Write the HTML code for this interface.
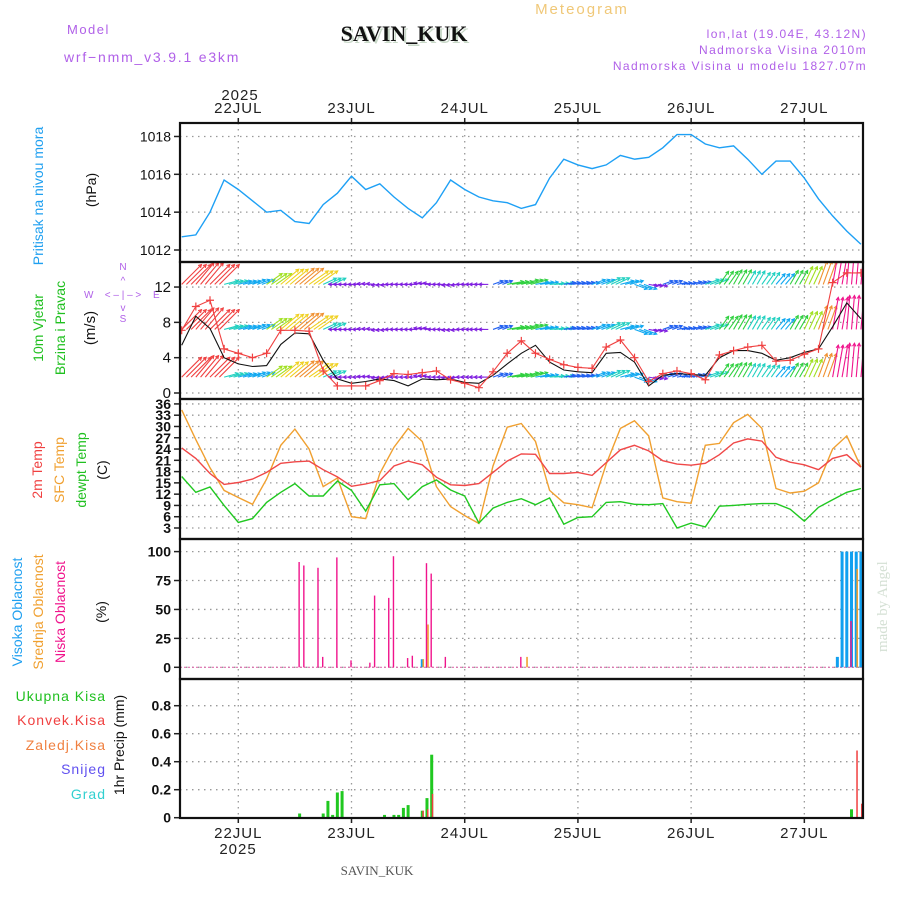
<!DOCTYPE html>
<html><head><meta charset="utf-8">
<style>
body{margin:0;background:#fff;}
svg{display:block;font-family:"Liberation Sans",sans-serif;}
</style></head>
<body>
<svg id="c" width="900" height="900" viewBox="0 0 900 900" xmlns="http://www.w3.org/2000/svg">
<defs>
<clipPath id="cp1"><rect x="180" y="123" width="683" height="139"/></clipPath>
<clipPath id="cp2"><rect x="180" y="262" width="683" height="137"/></clipPath>
<clipPath id="cp3"><rect x="180" y="399" width="683" height="140"/></clipPath>
<clipPath id="cp4"><rect x="180" y="539" width="683" height="140"/></clipPath>
<clipPath id="cp5"><rect x="180" y="679" width="683" height="139"/></clipPath>
</defs>
<rect x="0" y="0" width="900" height="900" fill="#fff"/>
<g id="grid"></g>
<g id="marks"></g>
<g id="frames"></g>
<g id="labels">
<text x="67" y="34" font-size="13" fill="#b060e8" letter-spacing="1.5">Model</text>
<text x="64" y="62" font-size="14" fill="#b060e8" letter-spacing="1.8">wrf−nmm_v3.9.1 e3km</text>
<text x="406" y="43" font-size="22" font-weight="bold" font-family="Liberation Serif,serif" fill="#c8d8c8" text-anchor="middle">SAVIN_KUK</text>
<text x="404" y="41" font-size="22" font-weight="bold" font-family="Liberation Serif,serif" fill="#111" text-anchor="middle">SAVIN_KUK</text>
<text x="582" y="14" font-size="15" fill="#f0c878" letter-spacing="2" text-anchor="middle">Meteogram</text>
<text x="867" y="38" font-size="12" fill="#b060e8" letter-spacing="1.4" text-anchor="end">lon,lat (19.04E, 43.12N)</text>
<text x="867" y="54" font-size="12" fill="#b060e8" letter-spacing="1.4" text-anchor="end">Nadmorska Visina 2010m</text>
<text x="867" y="70" font-size="12" fill="#b060e8" letter-spacing="1.4" text-anchor="end">Nadmorska Visina u modelu 1827.07m</text>
<text x="240" y="100" font-size="15" fill="#222" letter-spacing="1" text-anchor="middle">2025</text>
<text x="238" y="854" font-size="15" fill="#222" letter-spacing="1" text-anchor="middle">2025</text>
<text x="377" y="875" font-size="13" font-family="Liberation Serif,serif" fill="#555" text-anchor="middle">SAVIN_KUK</text>
<text transform="translate(887,652) rotate(-90)" font-size="15" font-family="Liberation Serif,serif" fill="#d4e0d4">made by Angel</text>
<text transform="translate(43,196) rotate(-90)" font-size="14" fill="#20a0f0" text-anchor="middle">Pritisak na nivou mora</text>
<text transform="translate(96,190) rotate(-90)" font-size="14" fill="#111" text-anchor="middle">(hPa)</text>
<text transform="translate(43,328) rotate(-90)" font-size="14" fill="#20c020" text-anchor="middle">10m Vjetar</text>
<text transform="translate(65,328) rotate(-90)" font-size="14" fill="#20c020" text-anchor="middle">Brzina i Pravac</text>
<text transform="translate(95,328) rotate(-90)" font-size="15" fill="#111" text-anchor="middle">(m/s)</text>
<g fill="#b060e8" stroke="none" font-size="10">
<text x="123" y="270" text-anchor="middle">N</text>
<text x="123" y="284" text-anchor="middle">^</text>
<text x="84" y="298">W</text>
<text x="153" y="298">E</text>
<text x="123" y="298" text-anchor="middle">&lt; – | – &gt;</text>
<text x="123" y="311" text-anchor="middle">v</text>
<text x="123" y="322" text-anchor="middle">S</text>
</g>
<text transform="translate(42,470) rotate(-90)" font-size="14" fill="#f04040" text-anchor="middle">2m Temp</text>
<text transform="translate(64,470) rotate(-90)" font-size="14" fill="#f0a030" text-anchor="middle">SFC Temp</text>
<text transform="translate(86,470) rotate(-90)" font-size="14" fill="#20c020" text-anchor="middle">dewpt Temp</text>
<text transform="translate(107,470) rotate(-90)" font-size="14" fill="#111" text-anchor="middle">(C)</text>
<text transform="translate(22,612) rotate(-90)" font-size="14" fill="#20a0f0" text-anchor="middle">Visoka Oblacnost</text>
<text transform="translate(43,612) rotate(-90)" font-size="14" fill="#f0a030" text-anchor="middle">Srednja Oblacnost</text>
<text transform="translate(65,612) rotate(-90)" font-size="14" fill="#f0148c" text-anchor="middle">Niska Oblacnost</text>
<text transform="translate(106,612) rotate(-90)" font-size="14" fill="#111" text-anchor="middle">(%)</text>
<g font-size="14" letter-spacing="1" text-anchor="end">
<text x="106" y="701" fill="#20c020">Ukupna  Kisa</text>
<text x="106" y="725" fill="#f04040">Konvek.Kisa</text>
<text x="106" y="750" fill="#f08040">Zaledj.Kisa</text>
<text x="106" y="774" fill="#6050f0">Snijeg</text>
<text x="106" y="799" fill="#30d0d0">Grad</text>
</g>
<text transform="translate(124,745) rotate(-90)" font-size="14" fill="#111" text-anchor="middle">1hr Precip (mm)</text>
</g>
</svg>
<script>
// ---------- data ----------
const hours = [-12,-9,-6,-3,0,3,6,9,12,15,18,21,24,27,30,33,36,39,42,45,48,51,54,57,60,63,66,69,72,75,78,81,84,87,90,93,96,99,102,105,108,111,114,117,120,123,126,129,132];
const dayLabels = ["22JUL","23JUL","24JUL","25JUL","26JUL","27JUL"];
const dayHours = [0,24,48,72,96,120];
const pressure = [1012.7,1012.8,1014.0,1015.7,1015.2,1014.6,1014.0,1014.1,1013.5,1013.4,1014.4,1015.0,1015.9,1015.2,1015.5,1014.8,1014.2,1013.7,1014.5,1015.7,1015.2,1014.8,1014.6,1014.5,1014.2,1014.4,1015.8,1016.8,1016.5,1016.3,1016.5,1017.0,1016.8,1016.9,1017.4,1018.1,1018.1,1017.6,1017.4,1017.5,1016.8,1016.0,1016.7,1016.7,1015.8,1014.7,1013.8,1013.0,1012.3];
const windSpeed = [5.4,8.7,7.3,4.0,3.3,3.0,3.1,5.5,6.8,6.7,3.7,1.6,1.1,1.3,1.6,1.4,0.8,1.6,1.5,1.6,1.2,1.1,2.0,3.3,4.5,5.4,3.5,2.6,2.4,2.3,4.5,4.6,3.5,0.8,2.0,2.2,2.1,2.0,4.0,4.8,4.8,4.5,3.7,4.0,4.6,5.0,7.5,10.2,8.4];
const windGust = [7.1,9.8,10.5,5.0,4.5,4.0,4.5,7.1,7.1,7.0,2.5,0.8,0.8,0.8,1.4,2.2,2.1,2.3,2.5,1.5,1.1,0.6,2.4,4.5,5.9,4.5,3.8,3.2,2.9,2.8,5.2,6.0,4.0,1.3,2.2,2.5,2.2,1.5,4.3,4.8,5.2,5.4,3.6,3.7,4.4,5.0,12.5,13.6,13.6];
const windDir = [45,40,45,75,75,70,55,50,50,55,65,270,270,275,265,270,270,280,270,265,270,270,70,80,75,80,85,80,80,70,65,75,110,100,70,80,75,70,35,30,30,35,40,30,25,20,10,5,5];
const windRowSpeed = [8,8,8,3.5,3.2,3.2,5,6.5,7,6.5,3.5,1.5,1.4,1.5,1.5,1.6,1.5,1.5,1.6,1.6,1.5,1.8,2.2,4.2,4.5,3.2,3.5,2.5,2.6,3.3,3.8,3.3,3.2,1.8,2.2,2.0,2.2,3.5,4.0,4.2,3.8,3.5,3.3,4.0,5.2,7.0,9.5,10,10];
const windRows = [12.3,7.2,1.8];
const temp2m = [24.3,21.5,17.5,14.6,15.1,16.0,17.8,20.2,20.6,20.8,18.5,16.6,14.1,14.7,15.6,19.5,20.8,19.8,16.5,14.5,14.3,14.8,17.8,20.8,22.7,22.6,17.5,17.5,17.8,17.0,20.4,23.8,25.0,23.5,20.9,20.0,19.7,20.2,22.5,25.6,26.7,26.1,21.8,20.5,19.8,18.5,21.5,22.5,19.2];
const tempSfc = [34.4,26.5,19,13,11.1,9.3,16,25,29.3,24,14,16.3,6,5.5,17.5,24.5,29.5,26,14,8.7,6.3,4.2,19.5,29.8,30.8,26,13,9.7,9.2,8.4,20,29.5,31.5,27.5,11,10,9.6,25,25.5,31,33.2,29.5,13.5,12.3,12.8,15,24,27.5,19.2];
const dewpt = [16.7,12.5,13.9,9,4.5,5.5,9.8,12.5,14.8,11.5,11.5,15.5,13,7.5,14.5,14.8,10.5,14,15.8,13.1,11.5,4.3,8.3,9.8,10.8,9.2,11,4,5.8,6,9.8,10,9.3,9.2,9.5,3,4.3,3.3,8.8,9,9.3,9.5,9.5,8,4.8,8.5,10.5,12.5,13.5];
const lowCloudHours = [13,14,17,18,21,24,28,29,32,33,36,37,40,41,44,60,130];
const lowCloudValues = [91,88,86,9,95,6,4,62,60,96,8,10,90,81,9,9,40];
const midCloudHours = [39,40,61,131];
const midCloudValues = [7,37,9,85];
const highCloudHours = [39,127,128,129,130,131,132];
const highCloudValues = [7,9,100,100,100,100,100];
const totalPrecipHours = [13,18,19,20,21,22,31,33,34,35,36,39,40,41,130];
const totalPrecipValues = [0.03,0.03,0.12,0.02,0.18,0.19,0.02,0.02,0.02,0.07,0.09,0.05,0.14,0.45,0.06];
const convPrecipHours = [39,40,41,131,132];
const convPrecipValues = [0.05,0.06,0.17,0.48,0.1];
const pressureTicks = [1012,1014,1016,1018];
const windTicks = [0,4,8,12];
const tempTicks = [3,6,9,12,15,18,21,24,27,30,33,36];
const cloudTicks = [0,25,50,75,100];
const precipTicks = [0,0.2,0.4,0.6,0.8];
const precipTickLabels = ["0","0.2","0.4","0.6","0.8"];

// ---------- axes ----------
const L=180, R=863;
const X = t => 238.3 + t*4.717;
const yP = v => 250 - (v-1012)*18.92;
const yW = v => 393 - v*8.83;
const yT = v => 528 - (v-3)*3.76;
const yC = v => 667.3 - v*1.157;
const yR = v => 817.7 - v*140;
const NS="http://www.w3.org/2000/svg";
function mk(tag, attrs, parent){const e=document.createElementNS(NS,tag);for(const k in attrs)e.setAttribute(k,attrs[k]);parent.appendChild(e);return e;}
const grid=document.getElementById('grid'), marks=document.getElementById('marks'), frames=document.getElementById('frames'), labels=document.getElementById('labels');
const panels=[{top:123,bot:262},{top:262,bot:399},{top:399,bot:539},{top:539,bot:679},{top:679,bot:818}];

dayHours.forEach((h,i)=>{
  const x=X(h);
  const ln=mk('line',{x1:x,y1:123,x2:x,y2:818,stroke:'#999','stroke-width':1.3,'stroke-dasharray':'1.5 4.5'},grid);
  
  
  const t1=mk('text',{x:x,y:113,'font-size':15,fill:'#222','letter-spacing':1,'text-anchor':'middle'},labels);
  t1.textContent=dayLabels[i];
  
  
  const t2=mk('text',{x:x,y:838,'font-size':15,fill:'#222','letter-spacing':1,'text-anchor':'middle'},labels);
  t2.textContent=dayLabels[i];
  
  
  mk('line',{x1:x,y1:118,x2:x,y2:123,stroke:'#222','stroke-width':1.5},grid);
  mk('line',{x1:x,y1:818,x2:x,y2:823,stroke:'#222','stroke-width':1.5},grid);
});
function yAxis(ticks, fy, texts, bold, fs){
  ticks.forEach((v,i)=>{
    const y=fy(v);
    const ln=mk('line',{x1:L,y1:y,x2:R,y2:y,stroke:'#999','stroke-width':1.3,'stroke-dasharray':'1.5 4.5'},grid);
    
    
    mk('line',{x1:L-6,y1:y,x2:L,y2:y,stroke:'#222','stroke-width':1.5},grid);
    const t=mk('text',{x:L-9,y:y+5,'font-size':fs||14,fill:'#111','text-anchor':'end','font-weight':bold?'bold':'normal'},labels);
    t.textContent=texts?texts[i]:String(v);
    
    
  });
}
yAxis(pressureTicks,yP);
yAxis(windTicks,yW,null,false,15);
yAxis(tempTicks,yT,null,true,14);
yAxis(cloudTicks,yC,null,true,14);
yAxis(precipTicks,yR,precipTickLabels,true,14);

function line(vals, fy, color, clip, name, w){
  const d=vals.map((v,i)=>(i?'L':'M')+X(hours[i]).toFixed(1)+' '+fy(v).toFixed(1)).join(' ');
  const p=mk('path',{d:d,fill:'none',stroke:color,'stroke-width':w||1.4,'clip-path':'url(#'+clip+')'},marks);
  
  
  return p;
}
line(pressure,yP,'#1ea0f5','cp1','pressure-line');

function windColor(s){
  if(s<2)return '#8020e0'; if(s<2.8)return '#2060f0'; if(s<3.4)return '#10a8f0'; if(s<4)return '#20d0c0';
  if(s<5)return '#30d040'; if(s<6)return '#a0e020'; if(s<7)return '#f0d020'; if(s<7.6)return '#f09030';
  if(s<9)return '#f04040'; return '#f0148c';
}
const wg=mk('g',{'clip-path':'url(#cp2)'},marks);


windRows.forEach((rv,ri)=>{
  hours.forEach((h,i)=>{
    const s=windRowSpeed[i], d=windDir[i]*Math.PI/180, len=4+s*3;
    const c=windColor(s);
    for(let k=0;k<3;k++){
      const x0=X(h+k), y0=yW(rv);
      const x1=x0+len*Math.sin(d), y1=y0-len*Math.cos(d);
      const a=mk('g',{stroke:c,'stroke-width':1.1,fill:'none'},wg);
      
      
      mk('line',{x1:x0,y1:y0,x2:x1,y2:y1},a);
      const ang=Math.atan2(y1-y0,x1-x0), hl=3.5;
      mk('path',{d:`M${x1-hl*Math.cos(ang-0.5)} ${y1-hl*Math.sin(ang-0.5)} L${x1} ${y1} L${x1-hl*Math.cos(ang+0.5)} ${y1-hl*Math.sin(ang+0.5)}`},a);
    }
  });
});
line(windSpeed,yW,'#111','cp2','wind-speed-line',1.1);
line(windGust,yW,'#f04040','cp2','wind-gust-line',1.1);
windGust.forEach((v,i)=>{
  const x=X(hours[i]), y=yW(v);
  const m=mk('path',{d:`M${x-4} ${y}H${x+4}M${x} ${y-4}V${y+4}`,stroke:'#f04040','stroke-width':1.2,'clip-path':'url(#cp2)'},marks);
  
  
});
line(tempSfc,yT,'#f0a030','cp3','sfc-temp-line');
line(temp2m,yT,'#f04848','cp3','temp-2m-line');
line(dewpt,yT,'#20c820','cp3','dewpt-line');
mk('line',{x1:L,y1:yC(0),x2:R,y2:yC(0),stroke:'#e070b0','stroke-width':1.2,'stroke-dasharray':'2 2'},marks);
function bars(hs, vs, fy, color, off, w, clip, name){
  hs.forEach((h,i)=>{
    const x=X(h)+off, y=fy(vs[i]), y0=fy(0);
    const r=mk('rect',{x:x-w/2,y:y,width:w,height:Math.max(0.5,y0-y),fill:color,'clip-path':'url(#'+clip+')'},marks);
    
    
  });
}
bars(highCloudHours,highCloudValues,yC,'#10a0f0',0,3,'cp4','high-cloud-bar');
bars(midCloudHours,midCloudValues,yC,'#f0a030',1,1.6,'cp4','mid-cloud-bar');
bars(lowCloudHours,lowCloudValues,yC,'#f0148c',-0.5,1.4,'cp4','low-cloud-bar');
bars(totalPrecipHours,totalPrecipValues,yR,'#20c820',0,3,'cp5','total-precip-bar');
bars(convPrecipHours,convPrecipValues,yR,'#f04040',0.8,1.5,'cp5','convective-precip-bar');
panels.forEach(p=>{
  const r=mk('rect',{x:L,y:p.top,width:R-L,height:p.bot-p.top,fill:'none',stroke:'#111','stroke-width':2.2},frames);
  
  
});
</script>
</body></html>
